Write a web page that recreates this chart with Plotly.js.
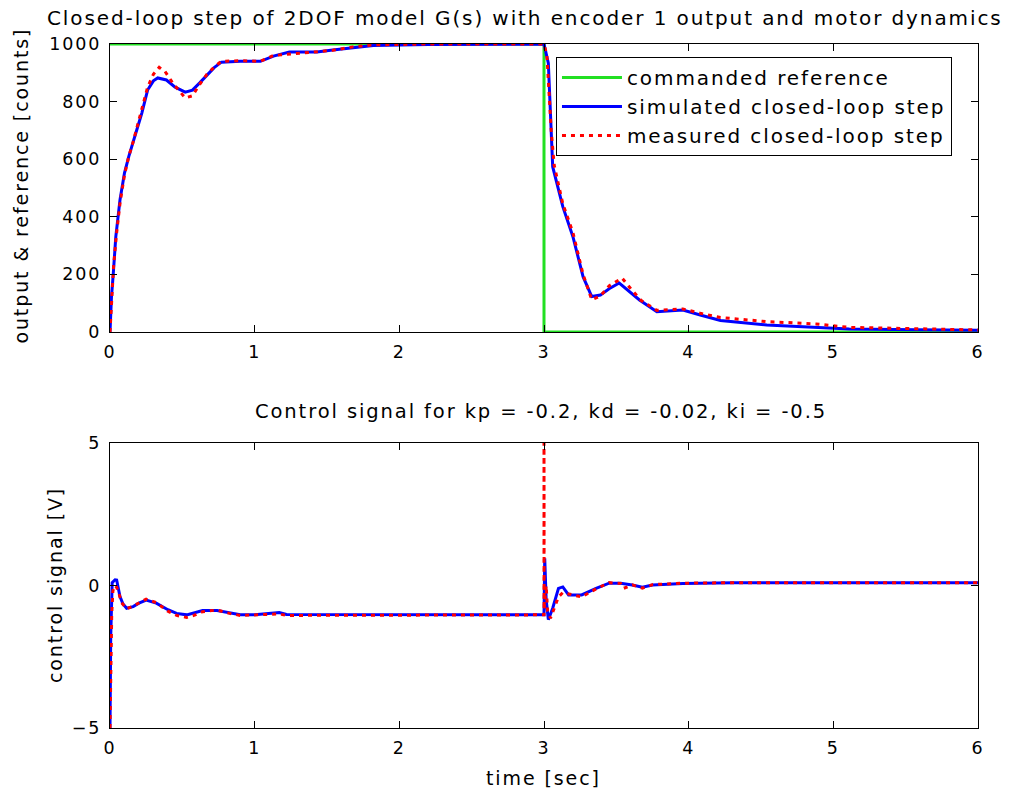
<!DOCTYPE html>
<html>
<head>
<meta charset="utf-8">
<script src="https://cdn.plot.ly/plotly-3.0.1.min.js"></script>
<style>
html,body{margin:0;padding:0;background:#fff;overflow:hidden;}
#chart{width:1014px;height:798px;}
svg text{letter-spacing:1.9px;}
</style>
</head>
<body>
<div id="chart"></div>
<script>
// ---- top plot: output & reference [counts] ----
var refT = [0, 3, 3, 6];
var refY = [1000, 1000, 0, 0];

var simT = [0,0.01,0.023,0.04,0.069,0.10,0.13,0.16,0.19,0.22,0.26,0.30,0.33,0.39,0.45,0.52,0.57,0.62,0.67,0.72,0.77,0.9,1.04,1.13,1.24,1.43,1.54,1.68,1.82,2.2,2.99,3.00,3.03,3.05,3.06,3.13,3.20,3.27,3.33,3.39,3.45,3.52,3.58,3.66,3.78,3.88,3.96,4.08,4.22,4.54,4.88,5.11,5.57,6.0];
var simY = [0,120,205,330,458,552,610,656,710,760,840,872,882,875,850,833,840,865,892,918,937,940,940,958,972,972,979,986,995,998,1000,1000,933,656,574,435,331,192,123,128,150,170,145,111,70,72,76,59,40,24,16,10,8,6];

var measT = [0,0.01,0.025,0.045,0.07,0.10,0.13,0.16,0.19,0.22,0.26,0.30,0.34,0.38,0.44,0.52,0.57,0.62,0.67,0.72,0.77,0.9,1.04,1.13,1.24,1.43,1.54,1.68,1.82,2.2,2.99,3.00,3.02,3.05,3.07,3.13,3.20,3.27,3.33,3.39,3.45,3.54,3.60,3.67,3.78,3.88,3.96,4.08,4.22,4.54,4.88,5.11,5.57,6.0];
var measY = [0,100,230,340,450,545,610,660,715,770,850,895,919,905,860,813,820,860,895,920,940,942,940,960,965,975,978,990,997,1000,1000,1000,960,700,580,445,345,200,112,125,160,187,150,110,75,78,80,65,50,36,28,16,10,7];

// ---- bottom plot: control signal [V] ----
var ctrlSimT = [0,0.005,0.015,0.023,0.035,0.046,0.06,0.069,0.09,0.115,0.16,0.2,0.25,0.32,0.4,0.46,0.53,0.58,0.64,0.74,0.82,0.9,1.0,1.17,1.22,3.0,3.005,3.015,3.03,3.06,3.10,3.13,3.17,3.26,3.36,3.45,3.53,3.61,3.68,3.75,3.96,4.31,6.0];
var ctrlSimU = [-5,-1.8,0.1,0.15,0.2,0.19,-0.1,-0.39,-0.65,-0.8,-0.74,-0.62,-0.51,-0.62,-0.85,-0.98,-1.03,-0.95,-0.88,-0.88,-0.95,-1.03,-1.03,-0.95,-1.02,-1.03,0.95,-0.5,-1.2,-0.8,-0.1,-0.05,-0.33,-0.33,-0.1,0.08,0.08,0.02,-0.06,0.02,0.07,0.1,0.1];

var ctrlMeasT = [0,0.005,0.012,0.02,0.03,0.045,0.06,0.08,0.115,0.16,0.2,0.25,0.32,0.4,0.46,0.53,0.58,0.64,0.74,0.82,0.9,1.0,1.17,1.22,3.0,3.0,3.001,3.002,3.005,3.015,3.025,3.045,3.07,3.10,3.13,3.17,3.26,3.36,3.45,3.53,3.55,3.61,3.68,3.75,3.96,4.31,6.0];
var ctrlMeasU = [-5,-3,-1.0,-0.2,0.0,-0.05,-0.25,-0.6,-0.82,-0.72,-0.6,-0.48,-0.6,-0.9,-1.05,-1.12,-1.05,-0.92,-0.86,-0.97,-1.05,-1.03,-1.0,-1.05,-1.03,5,-0.85,5,-0.6,0.0,-0.9,-1.15,-0.8,-0.4,-0.25,-0.3,-0.4,-0.12,0.1,0.07,-0.1,0.02,-0.09,0.03,0.08,0.1,0.1];

var xTicks = [0,1,2,3,4,5,6];
var topYTicks = [0,200,400,600,800,1000];
var botYTicks = [-5,0,5];

var FONT = 'DejaVu Sans, Liberation Sans, Arial, sans-serif';
var GREEN = '#22e022', BLUE = '#0000ff', RED = '#ff0000';

var traces = [
  {x: refT, y: refY, type: 'scatter', mode: 'lines', name: 'commanded reference',
   line: {color: GREEN, width: 3}, xaxis: 'x', yaxis: 'y'},
  {x: simT, y: simY, type: 'scatter', mode: 'lines', name: 'simulated closed-loop step',
   line: {color: BLUE, width: 3}, xaxis: 'x', yaxis: 'y'},
  {x: measT, y: measY, type: 'scatter', mode: 'lines', name: 'measured closed-loop step',
   line: {color: RED, width: 3, dash: '4px,5px'}, xaxis: 'x', yaxis: 'y'},
  {x: ctrlSimT, y: ctrlSimU, type: 'scatter', mode: 'lines', showlegend: false,
   line: {color: BLUE, width: 3}, xaxis: 'x2', yaxis: 'y2'},
  {x: ctrlMeasT, y: ctrlMeasU, type: 'scatter', mode: 'lines', showlegend: false,
   line: {color: RED, width: 3, dash: '4px,5px'}, xaxis: 'x2', yaxis: 'y2'}
];

function ax(extra) {
  var a = {
    showline: true, mirror: 'ticks', linecolor: '#000', linewidth: 1.2,
    ticks: 'inside', ticklen: 7, tickcolor: '#000', tickwidth: 1,
    showgrid: false, zeroline: false, tickfont: {family: FONT, size: 17.5, color: '#000'},
    ticklabelstandoff: 4
  };
  for (var k in extra) a[k] = extra[k];
  return a;
}

var layout = {
  width: 1014, height: 798,
  margin: {l: 110, r: 36, t: 44, b: 70},
  paper_bgcolor: '#fff', plot_bgcolor: '#fff',
  font: {family: FONT, color: '#000'},
  showlegend: true,
  legend: {x: 0.5138, y: 0.981, xanchor: 'left', yanchor: 'top',
           bordercolor: '#000', borderwidth: 1, bgcolor: '#fff',
           font: {family: FONT, size: 20, color: '#000'}, itemwidth: 60},
  xaxis: ax({domain: [0, 1], range: [0, 6], tickvals: xTicks, anchor: 'y'}),
  yaxis: ax({domain: [0.579, 1], range: [0, 1000], tickvals: topYTicks, anchor: 'x'}),
  xaxis2: ax({domain: [0, 1], range: [0, 6], tickvals: xTicks, anchor: 'y2'}),
  yaxis2: ax({domain: [0, 0.4167], range: [-5, 5], tickvals: botYTicks, anchor: 'x2'}),
  annotations: [
    {text: 'Closed-loop step of 2DOF model G(s) with encoder 1 output and motor dynamics',
     xref: 'paper', yref: 'paper', x: 0.478, y: 1.038, xanchor: 'center', yanchor: 'middle',
     showarrow: false, font: {family: FONT, size: 20, color: '#000'}},
    {text: 'Control signal for kp = -0.2, kd = -0.02, ki = -0.5',
     xref: 'paper', yref: 'paper', x: 0.4965, y: 0.462, xanchor: 'center', yanchor: 'middle',
     showarrow: false, font: {family: FONT, size: 19.5, color: '#000'}},
    {text: 'output &amp; reference [counts]', textangle: -90,
     xref: 'paper', yref: 'paper', x: -0.103, y: 0.7924, xanchor: 'center', yanchor: 'middle',
     showarrow: false, font: {family: FONT, size: 19, color: '#000'}},
    {text: 'control signal [V]', textangle: -90,
     xref: 'paper', yref: 'paper', x: -0.0634, y: 0.209, xanchor: 'center', yanchor: 'middle',
     showarrow: false, font: {family: FONT, size: 19, color: '#000'}},
    {text: 'time [sec]',
     xref: 'paper', yref: 'paper', x: 0.4999, y: -0.073, xanchor: 'center', yanchor: 'middle',
     showarrow: false, font: {family: FONT, size: 19, color: '#000'}}
  ]
};

Plotly.newPlot('chart', traces, layout, {displayModeBar: false, staticPlot: true});
</script>
</body>
</html>
